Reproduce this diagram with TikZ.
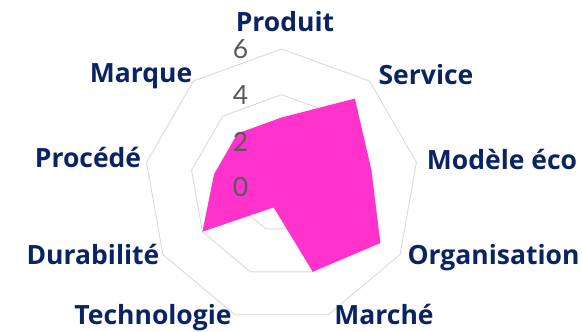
\documentclass[tikz,border=0pt]{standalone}
\usepackage{fontspec}
\setmainfont{Open Sans}
\newfontfamily\numfont{Lato}
\definecolor{navy}{HTML}{0A2463}
\definecolor{gridc}{HTML}{D9D9D9}
\definecolor{numc}{HTML}{595959}
\definecolor{pinkfill}{HTML}{FF33CC}
\begin{document}
\begin{tikzpicture}[x=1pt,y=1pt,
  lab/.style={font=\bfseries\fontsize{26.5}{26.5}\selectfont, text=navy, inner sep=0pt, anchor=base},
  num/.style={font=\numfont\fontsize{26.5}{26.5}\selectfont, text=numc, inner sep=0pt, anchor=base},
  ring/.style={draw=gridc, line width=0.9pt, line join=miter}]
\useasboundingbox (0,0) rectangle (582,332);
\def\u{22.83}
\begin{scope}[shift={(281.5,146)}]
  \foreach \v in {2,4,6}{
    \draw[ring] (90:\v*\u) -- (130:\v*\u) -- (170:\v*\u) -- (210:\v*\u) -- (250:\v*\u)
      -- (290:\v*\u) -- (330:\v*\u) -- (10:\v*\u) -- (50:\v*\u) -- cycle;
  }
  \fill[pinkfill] (90:3*\u) -- (50:5*\u) -- (10:4*\u) -- (-30:5*\u) -- (-70:4*\u)
      -- (-110:1*\u) -- (-150:4*\u) -- (170:3*\u) -- (130:3*\u) -- cycle;
\end{scope}
\node[num] (n6) at (240.5,273.7) {6};
\node[num] (n4) at (240.5,227) {4};
\node[num] (n2) at (240.5,180) {2};
\node[num] (n0) at (240.5,135) {0};
\node[lab] (produit) at (285,300) {Produit};
\node[lab] (service) at (426,247) {Service};
\node[lab] (modele) at (502,162) {Modèle éco};
\node[lab] (organisation) at (493.5,67) {Organisation};
\node[lab] (marche) at (384,7) {Marché};
\node[lab] (technologie) at (153,7) {Technologie};
\node[lab] (durabilite) at (93,67) {Durabilité};
\node[lab] (procede) at (88,164) {Procédé};
\node[lab] (marque) at (141,249) {Marque};
\end{tikzpicture}
\end{document}
